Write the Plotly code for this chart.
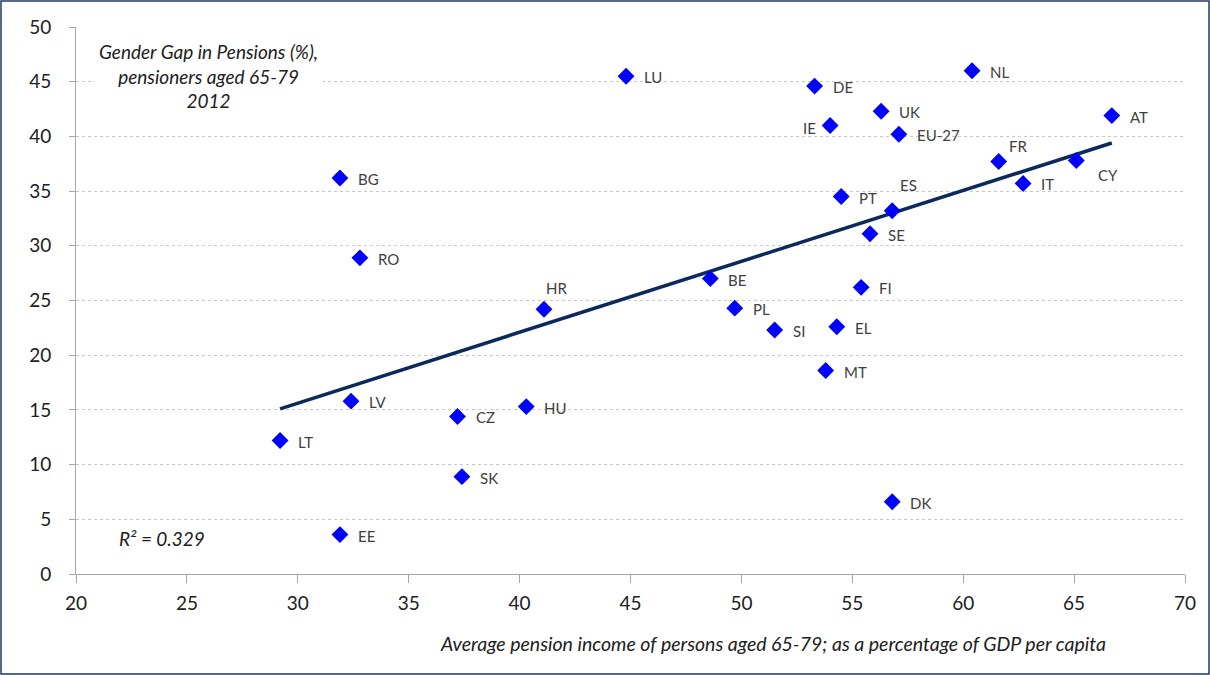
import plotly.graph_objects as go

countries = ["LU", "DE", "NL", "UK", "IE", "EU-27", "AT", "FR", "CY", "IT", "BG", "PT", "ES", "SE",
             "RO", "BE", "FI", "HR", "PL", "SI", "EL", "MT", "LV", "HU", "CZ", "LT", "SK", "DK", "EE"]
pension_income = [44.8, 53.3, 60.4, 56.3, 54.0, 57.1, 66.7, 61.6, 65.1, 62.7, 31.9, 54.5, 56.8, 55.8,
                  32.8, 48.6, 55.4, 41.1, 49.7, 51.5, 54.3, 53.8, 32.4, 40.3, 37.2, 29.2, 37.4, 56.8, 31.9]
gender_gap = [45.5, 44.6, 46.0, 42.3, 41.0, 40.2, 41.9, 37.7, 37.8, 35.7, 36.2, 34.5, 33.2, 31.1,
              28.9, 27.0, 26.2, 24.2, 24.3, 22.3, 22.6, 18.6, 15.8, 15.3, 14.4, 12.2, 8.9, 6.6, 3.6]
trend_x = [29.2, 66.7]
trend_y = [15.1, 39.4]
r_squared = "0.329"

# label placement styles (pixel offsets, anchor)
label_style = {
    "IE": dict(xshift=-12, yshift=-3, xanchor="right"),
    "FR": dict(xshift=8, yshift=16, xanchor="left"),
    "ES": dict(xshift=6, yshift=26, xanchor="left"),
    "CY": dict(xshift=20, yshift=-15, xanchor="left"),
    "HR": dict(xshift=0, yshift=21, xanchor="left"),
}
default_style = dict(xshift=16, yshift=-1, xanchor="left")

font_family = "Lato, 'Open Sans', sans-serif"

W, H = 1210, 675
ml, mr, mt, mb = 76, 25, 27, 101
pw, ph = W - ml - mr, H - mt - mb

def px(xp):
    return (xp - ml) / pw

def py(yp):
    return (H - mb - yp) / ph

fig = go.Figure()
fig.add_trace(go.Scatter(
    x=trend_x, y=trend_y, mode="lines",
    line=dict(color="#0b2a5c", width=3.5), hoverinfo="skip", showlegend=False))
fig.add_trace(go.Scatter(
    x=pension_income, y=gender_gap, mode="markers", text=countries,
    marker=dict(symbol="diamond", color="#0000ff", size=13, line=dict(width=0)),
    showlegend=False))

annotations = []
for c, xv, yv in zip(countries, pension_income, gender_gap):
    st = label_style.get(c, default_style)
    annotations.append(dict(x=xv, y=yv, xref="x", yref="y", text=c, showarrow=False,
                            font=dict(family=font_family, size=15, color="#404040"),
                            yanchor="middle", **st))

annotations.append(dict(
    x=px(208), y=py(76), xref="paper", yref="paper", xanchor="center", yanchor="middle",
    text="<i>Gender Gap in Pensions (%),<br>pensioners aged 65-79<br>2012</i>",
    showarrow=False, bgcolor="white", align="center", borderpad=4,
    font=dict(family=font_family, size=19, color="#202020")))
annotations.append(dict(
    x=px(162), y=py(538), xref="paper", yref="paper", xanchor="center", yanchor="middle",
    text="<i>R² = " + r_squared + "</i>", showarrow=False,
    font=dict(family=font_family, size=19, color="#202020")))
annotations.append(dict(
    x=px(773), y=py(643), xref="paper", yref="paper", xanchor="center", yanchor="middle",
    text="<i>Average pension income of persons aged 65-79; as a percentage of GDP per capita</i>",
    showarrow=False, font=dict(family=font_family, size=19.5, color="#202020")))

fig.update_layout(
    width=W, height=H,
    margin=dict(l=ml, r=mr, t=mt, b=mb),
    paper_bgcolor="white", plot_bgcolor="white",
    font=dict(family=font_family, color="#202020"),
    annotations=annotations,
    shapes=[dict(type="rect", xref="paper", yref="paper",
                 x0=px(1), x1=px(W - 1), y0=py(H - 1), y1=py(1),
                 line=dict(color="#1f3864", width=1.5), fillcolor="rgba(0,0,0,0)", layer="below")],
    xaxis=dict(range=[20, 70], dtick=5, tick0=20, showgrid=False, zeroline=False,
               showline=True, linecolor="#a6a6a6", linewidth=1,
               ticks="outside", ticklen=8, tickcolor="#a6a6a6",
               tickfont=dict(size=19, color="#202020"), ticklabelstandoff=4),
    yaxis=dict(range=[0, 50], dtick=5, tick0=0, showgrid=True, gridcolor="#c8c8c8",
               griddash="dot", gridwidth=1, zeroline=False,
               showline=True, linecolor="#a6a6a6", linewidth=1,
               ticks="outside", ticklen=6, tickcolor="#a6a6a6",
               tickfont=dict(size=19, color="#202020"), ticklabelstandoff=14),
)

fig.write_html("out.html", config={"displayModeBar": False},
               post_script="document.body.style.margin='0';document.body.style.overflow='hidden';")
